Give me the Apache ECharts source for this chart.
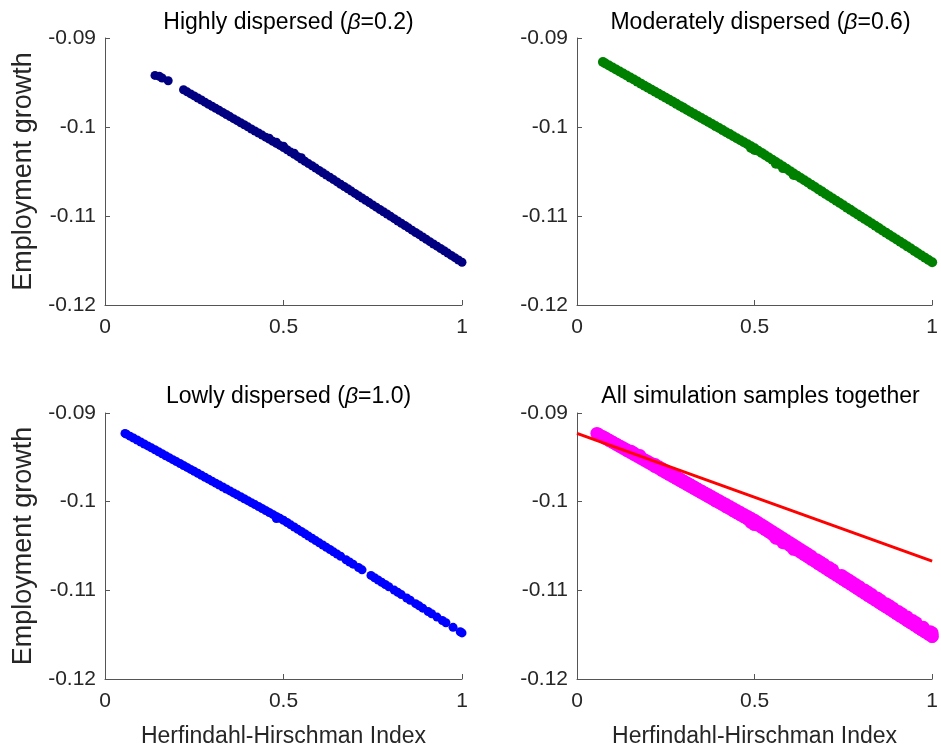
<!DOCTYPE html>
<html>
<head>
<meta charset="utf-8">
<script src="https://cdn.jsdelivr.net/npm/echarts@6/dist/echarts.min.js"></script>
<style>html,body{margin:0;padding:0;background:#fff;}#c{width:941px;height:751px;}</style>
</head>
<body>
<div id="c"></div>
<script>
// ---- data ----
var xTickLabels = ['0', '0.5', '1'];
var yTickLabels = ['-0.12', '-0.11', '-0.1', '-0.09'];
var titles = ['Highly dispersed (β=0.2)', 'Moderately dispersed (β=0.6)', 'Lowly dispersed (β=1.0)', 'All simulation samples together'];
var xLabel = 'Herfindahl-Hirschman Index';
var yLabel = 'Employment growth';

// beta = 0.2 (navy)
var hiX = [0.14, 0.152, 0.16, 0.177,
  0.22, 0.23, 0.24, 0.25, 0.26, 0.27, 0.28, 0.29, 0.30, 0.31, 0.32, 0.33, 0.34, 0.35, 0.36, 0.37, 0.38, 0.39,
  0.40, 0.41, 0.42, 0.43, 0.44, 0.45, 0.46, 0.47, 0.48, 0.49, 0.50, 0.51, 0.52, 0.53, 0.54, 0.55, 0.56, 0.57, 0.58, 0.59,
  0.60, 0.61, 0.62, 0.63, 0.64, 0.65, 0.66, 0.67, 0.68, 0.69, 0.70, 0.71, 0.72, 0.73, 0.74, 0.75, 0.76, 0.77, 0.78, 0.79,
  0.80, 0.81, 0.82, 0.83, 0.84, 0.85, 0.86, 0.87, 0.88, 0.89, 0.90, 0.91, 0.92, 0.93, 0.94, 0.95, 0.96, 0.97, 0.98, 0.99, 1.00,
  0.46, 0.48, 0.50, 0.53, 0.55];
var hiY = [-0.0942, -0.0943, -0.0945, -0.0948,
  -0.09582, -0.09605, -0.09628, -0.09651, -0.09674, -0.09697, -0.09721, -0.09744, -0.09767, -0.09790, -0.09813, -0.09836, -0.09860, -0.09883, -0.09906, -0.09929, -0.09952, -0.09975,
  -0.09998, -0.10022, -0.10045, -0.10068, -0.10091, -0.10114, -0.10137, -0.10161, -0.10184, -0.10207, -0.10230, -0.10256, -0.10282, -0.10307, -0.10333, -0.10359, -0.10385, -0.10411, -0.10436, -0.10462,
  -0.10488, -0.10514, -0.10540, -0.10565, -0.10591, -0.10617, -0.10643, -0.10669, -0.10694, -0.10720, -0.10746, -0.10772, -0.10798, -0.10823, -0.10849, -0.10875, -0.10901, -0.10927, -0.10952, -0.10978,
  -0.11004, -0.11030, -0.11056, -0.11081, -0.11107, -0.11133, -0.11159, -0.11185, -0.11210, -0.11236, -0.11262, -0.11288, -0.11314, -0.11339, -0.11365, -0.11391, -0.11417, -0.11443, -0.11468, -0.11494, -0.11520,
  -0.10125, -0.10170, -0.10215, -0.10295, -0.10345];

// beta = 0.6 (green)
var midX = [0.073, 0.08, 0.09, 0.10, 0.11, 0.12, 0.13, 0.14, 0.15, 0.16, 0.17, 0.18, 0.19,
  0.20, 0.21, 0.22, 0.23, 0.24, 0.25, 0.26, 0.27, 0.28, 0.29, 0.30, 0.31, 0.32, 0.33, 0.34, 0.35, 0.36, 0.37, 0.38, 0.39,
  0.40, 0.41, 0.42, 0.43, 0.44, 0.45, 0.46, 0.47, 0.48, 0.49, 0.50, 0.51, 0.52, 0.53, 0.54, 0.55, 0.56, 0.57, 0.58, 0.59,
  0.60, 0.61, 0.62, 0.63, 0.64, 0.65, 0.66, 0.67, 0.68, 0.69, 0.70, 0.71, 0.72, 0.73, 0.74, 0.75, 0.76, 0.77, 0.78, 0.79,
  0.80, 0.81, 0.82, 0.83, 0.84, 0.85, 0.86, 0.87, 0.88, 0.89, 0.90, 0.91, 0.92, 0.93, 0.94, 0.95, 0.96, 0.97, 0.98, 0.99, 1.00,
  0.49, 0.50, 0.56, 0.58, 0.61];
var midY = [-0.09270, -0.09286, -0.09309, -0.09331, -0.09354, -0.09377, -0.09399, -0.09422, -0.09445, -0.09467, -0.09490, -0.09513, -0.09536,
  -0.09558, -0.09581, -0.09604, -0.09626, -0.09649, -0.09672, -0.09694, -0.09717, -0.09740, -0.09763, -0.09785, -0.09808, -0.09831, -0.09853, -0.09876, -0.09899, -0.09921, -0.09944, -0.09967, -0.09990,
  -0.10012, -0.10035, -0.10058, -0.10080, -0.10103, -0.10126, -0.10148, -0.10171, -0.10194, -0.10217, -0.10239, -0.10266, -0.10291, -0.10317, -0.10342, -0.10368, -0.10394, -0.10419, -0.10445, -0.10470,
  -0.10496, -0.10522, -0.10547, -0.10573, -0.10598, -0.10624, -0.10650, -0.10675, -0.10701, -0.10726, -0.10752, -0.10778, -0.10803, -0.10829, -0.10854, -0.10880, -0.10906, -0.10931, -0.10957, -0.10982,
  -0.11008, -0.11034, -0.11059, -0.11085, -0.11110, -0.11136, -0.11162, -0.11187, -0.11213, -0.11238, -0.11264, -0.11290, -0.11315, -0.11341, -0.11366, -0.11392, -0.11418, -0.11443, -0.11469, -0.11494, -0.11520,
  -0.10235, -0.10258, -0.10412, -0.10462, -0.10538];

// beta = 1.0 (blue)
var loX = [0.056, 0.06, 0.07, 0.08, 0.09, 0.10, 0.11, 0.12, 0.13, 0.14, 0.15, 0.16, 0.17, 0.18, 0.19,
  0.20, 0.21, 0.22, 0.23, 0.24, 0.25, 0.26, 0.27, 0.28, 0.29, 0.30, 0.31, 0.32, 0.33, 0.34, 0.35, 0.36, 0.37, 0.38, 0.39,
  0.40, 0.41, 0.42, 0.43, 0.44, 0.45, 0.46, 0.47, 0.48, 0.49, 0.50, 0.51, 0.52, 0.53, 0.54, 0.55, 0.56, 0.57, 0.58, 0.59,
  0.60, 0.61, 0.62, 0.63, 0.64, 0.65,
  0.66, 0.675, 0.685, 0.695, 0.71, 0.72, 0.745, 0.755, 0.765, 0.775, 0.785, 0.795, 0.81, 0.82, 0.83, 0.845, 0.855, 0.87, 0.88, 0.89, 0.905, 0.915, 0.93, 0.945, 0.955, 0.975, 0.995, 1.00,
  0.48];
var loY = [-0.09230, -0.09239, -0.09261, -0.09283, -0.09305, -0.09327, -0.09349, -0.09371, -0.09393, -0.09415, -0.09437, -0.09460, -0.09482, -0.09504, -0.09526,
  -0.09548, -0.09570, -0.09592, -0.09614, -0.09636, -0.09658, -0.09680, -0.09702, -0.09724, -0.09746, -0.09769, -0.09791, -0.09813, -0.09835, -0.09857, -0.09879, -0.09901, -0.09923, -0.09945, -0.09967,
  -0.09989, -0.10011, -0.10033, -0.10055, -0.10077, -0.10100, -0.10122, -0.10144, -0.10166, -0.10188, -0.10210, -0.10235, -0.10261, -0.10286, -0.10312, -0.10337, -0.10362, -0.10388, -0.10413, -0.10439,
  -0.10464, -0.10489, -0.10515, -0.10540, -0.10566, -0.10591,
  -0.10616, -0.10655, -0.10680, -0.10705, -0.10743, -0.10769, -0.10832, -0.10858, -0.10883, -0.10909, -0.10934, -0.10959, -0.10997, -0.11023, -0.11048, -0.11086, -0.11112, -0.11150, -0.11175, -0.11201, -0.11239, -0.11264, -0.11302, -0.11340, -0.11366, -0.11417, -0.11467, -0.11480,
  -0.10190];

// fitted line over all samples (red)
var fitX = [0, 1];
var fitY = [-0.0923, -0.1067];

// ---- build ----
function pairs(xs, ys) { var out = []; for (var i = 0; i < xs.length; i++) out.push([xs[i], ys[i]]); return out; }
var allPts = pairs(hiX, hiY).concat(pairs(midX, midY), pairs(loX, loY));

var FONT = 'Liberation Sans, Arial, sans-serif';
var TXT = '#262626';
var grids = [
  { left: 105, top: 38, width: 357, height: 267 },
  { left: 577, top: 38, width: 357, height: 267 },
  { left: 105, top: 413, width: 357, height: 266 },
  { left: 577, top: 413, width: 357, height: 266 }
];
function xAxisFor(i, withName) {
  return {
    type: 'value', gridIndex: i, min: 0, max: 1, interval: 0.5,
    axisLine: { show: true, onZero: false, lineStyle: { color: '#555', width: 1 } },
    axisTick: { show: true, inside: true, length: 5, lineStyle: { color: '#555' } },
    splitLine: { show: false },
    axisLabel: { color: TXT, fontFamily: FONT, fontSize: 21, margin: 12,
      formatter: function (v) { return xTickLabels[Math.round(v * 2)]; } },
    name: withName ? xLabel : '', nameLocation: 'middle', nameGap: 46,
    nameTextStyle: { color: TXT, fontFamily: FONT, fontSize: 23 }
  };
}
function yAxisFor(i, withName) {
  return {
    type: 'value', gridIndex: i, min: -0.12, max: -0.09, interval: 0.01,
    axisLine: { show: true, onZero: false, lineStyle: { color: '#555', width: 1 } },
    axisTick: { show: true, inside: true, length: 5, lineStyle: { color: '#555' } },
    splitLine: { show: false },
    axisLabel: { color: TXT, fontFamily: FONT, fontSize: 21, margin: 9,
      formatter: function (v) { return yTickLabels[Math.round((v + 0.12) * 100)]; } },
    name: withName ? yLabel : '', nameLocation: 'middle', nameGap: 68, nameRotate: 90,
    nameTextStyle: { color: TXT, fontFamily: FONT, fontSize: 27 }
  };
}
function richTitle(t) {
  var m = t.match(/^(.*\()β(=.*)$/);
  if (!m) return '{n|' + t + '}';
  return '{n|' + m[1] + '}{i|β}{n|' + m[2] + '}';
}
var titleComps = titles.map(function (t, i) {
  var g = grids[i];
  return {
    text: richTitle(t), left: g.left + g.width / 2, top: i < 2 ? 6 : 380, textAlign: 'center',
    textStyle: { fontWeight: 'normal', rich: {
      n: { fontFamily: FONT, fontSize: 23, color: '#000', fontWeight: 'normal' },
      i: { fontFamily: FONT, fontSize: 23, color: '#000', fontStyle: 'italic', fontWeight: 'normal' }
    } }
  };
});

var option = {
  animation: false,
  backgroundColor: '#ffffff',
  title: titleComps,
  grid: grids,
  xAxis: [xAxisFor(0, false), xAxisFor(1, false), xAxisFor(2, true), xAxisFor(3, true)],
  yAxis: [yAxisFor(0, true), yAxisFor(1, false), yAxisFor(2, true), yAxisFor(3, false)],
  series: [
    { type: 'scatter', xAxisIndex: 0, yAxisIndex: 0, data: pairs(hiX, hiY), symbolSize: 9, itemStyle: { color: '#000080', opacity: 1 } },
    { type: 'scatter', xAxisIndex: 1, yAxisIndex: 1, data: pairs(midX, midY), symbolSize: 10, itemStyle: { color: '#008000', opacity: 1 } },
    { type: 'scatter', xAxisIndex: 2, yAxisIndex: 2, data: pairs(loX, loY), symbolSize: 9, itemStyle: { color: '#0000ff', opacity: 1 } },
    { type: 'scatter', xAxisIndex: 3, yAxisIndex: 3, data: allPts, symbolSize: 13, itemStyle: { color: '#ff00ff', opacity: 1 } },
    { type: 'line', xAxisIndex: 3, yAxisIndex: 3, data: pairs(fitX, fitY), symbol: 'none', z: 5,
      lineStyle: { color: '#ff0000', width: 3 } }
  ]
};
var chart = echarts.init(document.getElementById('c'), null, { renderer: 'canvas' });
chart.setOption(option);
</script>
</body>
</html>
